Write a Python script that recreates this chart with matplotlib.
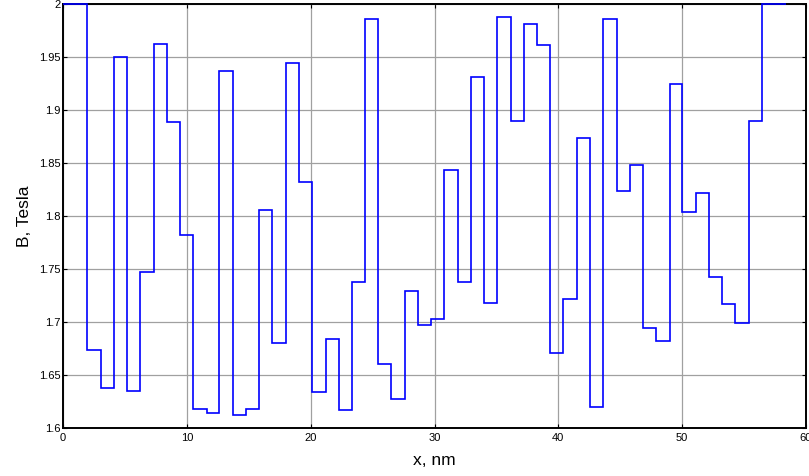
import matplotlib
matplotlib.use("Agg")
import matplotlib.pyplot as plt
from matplotlib.ticker import FuncFormatter

# step boundaries along x (nm)
x_edges = [0, 1.96, 3.04, 4.09, 5.16, 6.21, 7.31, 8.36, 9.44, 10.5, 11.6,
           12.6, 13.7, 14.76, 15.8, 16.88, 17.98, 19.06, 20.1, 21.2, 22.26,
           23.3, 24.4, 25.46, 26.5, 27.6, 28.65, 29.7, 30.8, 31.9, 32.96,
           34.0, 35.08, 36.15, 37.23, 38.25, 39.35, 40.4, 41.5, 42.56, 43.6,
           44.7, 45.75, 46.8, 47.9, 48.98, 50.0, 51.1, 52.2, 53.2, 54.3,
           55.4, 56.45, 58.36]
# field value on each step (Tesla)
b_values = [2.0, 1.674, 1.638, 1.950, 1.635, 1.747, 1.962, 1.889, 1.782,
            1.618, 1.614, 1.937, 1.612, 1.618, 1.806, 1.680, 1.944, 1.832,
            1.634, 1.684, 1.617, 1.738, 1.986, 1.660, 1.627, 1.729, 1.697,
            1.703, 1.843, 1.738, 1.931, 1.718, 1.988, 1.890, 1.981, 1.961,
            1.671, 1.722, 1.874, 1.620, 1.986, 1.824, 1.848, 1.694, 1.682,
            1.925, 1.804, 1.822, 1.742, 1.717, 1.699, 1.890, 2.0]

x_ticks = [0, 10, 20, 30, 40, 50, 60]
y_ticks = [1.6, 1.65, 1.7, 1.75, 1.8, 1.85, 1.9, 1.95, 2.0]

plt.rcParams['font.family'] = ['Liberation Sans', 'DejaVu Sans']

fig = plt.figure(figsize=(8.09, 4.76), dpi=100)
ax = fig.add_axes([0.0779, 0.1008, 0.9184, 0.8908])

ax.stairs(b_values, x_edges, color='#0000ff', linewidth=1.2,
          baseline=None, clip_on=False, zorder=3)

ax.set_xlim(0, 60)
ax.set_ylim(1.6, 2.0)
ax.set_xticks(x_ticks)
ax.set_yticks(y_ticks)
ax.yaxis.set_major_formatter(FuncFormatter(lambda v, p: f"{v:g}"))

ax.grid(True, color='#a0a0a0', linewidth=0.9, linestyle='-')
ax.set_axisbelow(True)
ax.tick_params(direction='in', length=3, width=0.8, labelsize=8,
               top=True, right=True)
ax.tick_params(axis='x', pad=3.5)
ax.tick_params(axis='y', pad=2)
for s in ax.spines.values():
    s.set_linewidth(1.4)
    s.set_zorder(2.5)

ax.set_xlabel("x, nm", fontsize=12.5, labelpad=7)
ax.set_ylabel("B, Tesla", fontsize=12.5, labelpad=5)

fig.savefig("out.png", dpi=100)
